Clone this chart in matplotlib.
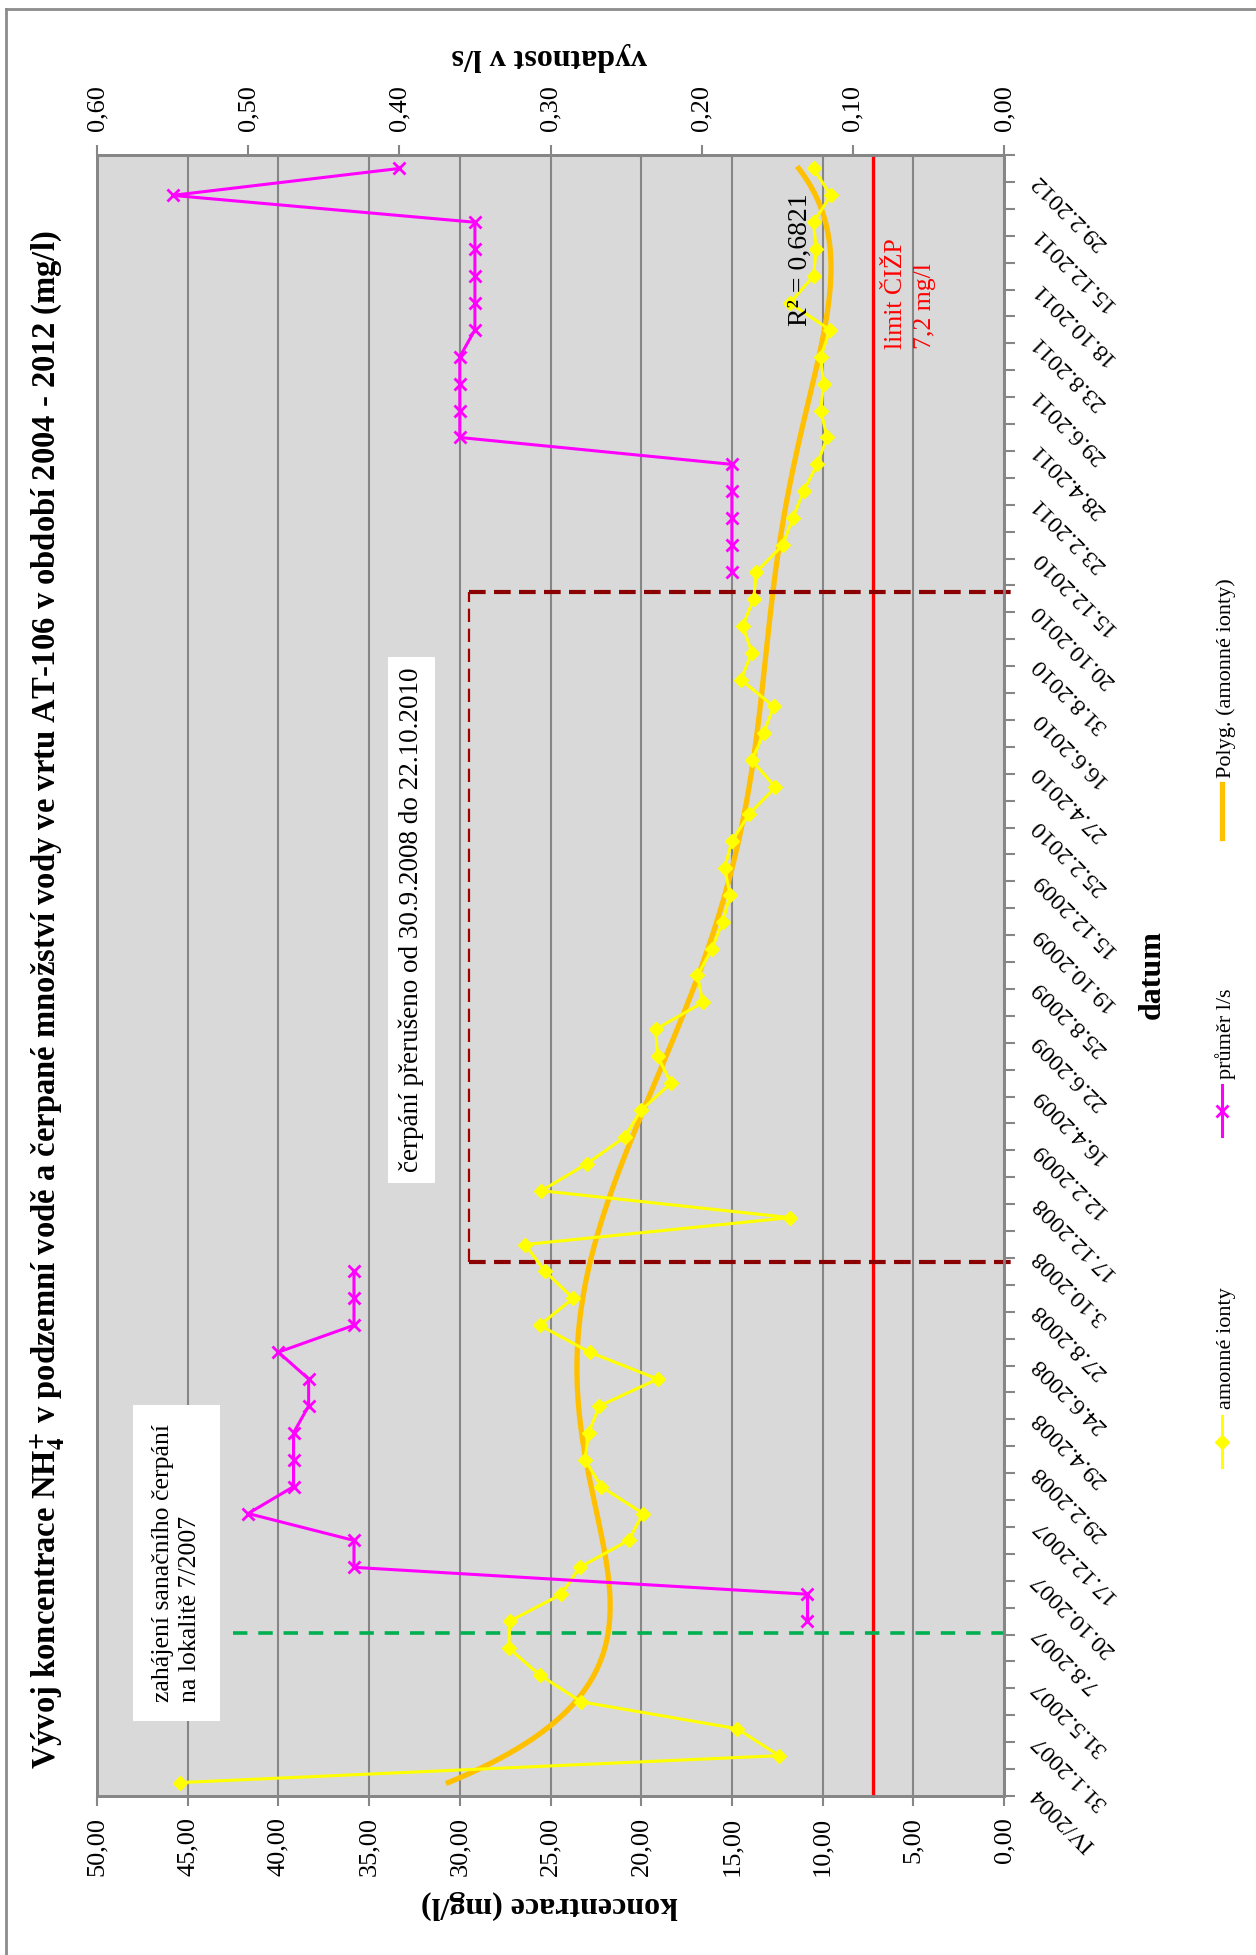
import numpy as np
import matplotlib
matplotlib.use('Agg')
import matplotlib.pyplot as plt
from matplotlib.lines import Line2D
from matplotlib.ticker import FuncFormatter
from matplotlib.transforms import blended_transform_factory, offset_copy

plt.rcParams['font.family'] = ['Liberation Serif', 'DejaVu Serif']
plt.rcParams['mathtext.fontset'] = 'stix'

# NH4+ concentration (mg/l), one value per sampling date
amonne = [45.4, 12.4, 14.7, 23.3, 25.6, 27.3, 27.25, 24.4, 23.4, 20.7,
          19.9, 22.2, 23.1, 22.9, 22.3, 19.1, 22.85, 25.6, 23.75, 25.3,
          26.4, 11.8, 25.5, 23.0, 20.9, 20.0, 18.35, 19.1, 19.2, 16.6,
          16.9, 16.1, 15.5, 15.1, 15.4, 15.0, 14.05, 12.6, 13.9, 13.25,
          12.7, 14.5, 13.9, 14.4, 13.8, 13.65, 12.2, 11.65, 11.05, 10.3,
          9.75, 10.1, 9.95, 10.1, 9.6, 11.8, 10.5, 10.35, 10.5, 9.55,
          10.5]

# average pumped yield (l/s), nan where pumping was off
nan = np.nan
prumer = [nan, nan, nan, nan, nan, nan, 0.13, 0.13, 0.43, 0.43,
          0.50, 0.47, 0.47, 0.47, 0.46, 0.46, 0.48, 0.43, 0.43, 0.43,
          nan, nan, nan, nan, nan, nan, nan, nan, nan, nan,
          nan, nan, nan, nan, nan, nan, nan, nan, nan, nan,
          nan, nan, nan, nan, nan, 0.18, 0.18, 0.18, 0.18, 0.18,
          0.36, 0.36, 0.36, 0.36, 0.35, 0.35, 0.35, 0.35, 0.35, 0.55,
          0.40]

# dates shown on the category axis (every second sample)
datum_labels = ['IV/2004', '31.1.2007', '31.5.2007', '7.8.2007', '20.10.2007',
                '17.12.2007', '29.2.2008', '29.4.2008', '24.6.2008', '27.8.2008',
                '3.10.2008', '17.12.2008', '12.2.2009', '16.4.2009', '22.6.2009',
                '25.8.2009', '19.10.2009', '15.12.2009', '25.2.2010', '27.4.2010',
                '16.6.2010', '31.8.2010', '20.10.2010', '15.12.2010', '23.2.2011',
                '28.4.2011', '29.6.2011', '23.8.2011', '18.10.2011', '15.12.2011',
                '29.2.2012']

limit_cizp = 7.2
start_cerpani = 5.55          # 7/2007, between samples
preruseni = (19.35, 44.25)    # 30.9.2008 - 22.10.2010
preruseni_conc = 29.5

n = len(amonne)
idx = np.arange(n)

W, H = 1256, 1955
fig = plt.figure(figsize=(W / 100, H / 100), dpi=100)
L, R, T, B = 97, 1004, 155, 1796
ax = fig.add_axes([L / W, 1 - B / H, (R - L) / W, (B - T) / H])

gray = '#868686'
fs_tick = 19
fs_title = 23
fs_note = 18.5

def comma(fmt):
    return FuncFormatter(lambda v, p: format(v, fmt).replace('.', ','))

ax.set_facecolor('#d9d9d9')
ax.set_xlim(50, 0)
ax.set_ylim(-0.5, n - 0.5)
ax.set_xticks(np.arange(0, 51, 5))
ax.xaxis.set_major_formatter(comma('.2f'))
ax.tick_params(axis='x', direction='out', length=7, width=1.5, color=gray,
               labelsize=fs_tick, labelrotation=90, pad=8)
ax.grid(axis='x', color=gray, lw=1.5)
ax.set_axisbelow(True)

ax.yaxis.tick_right()
ax.set_yticks(np.arange(n + 1) - 0.5)
ax.set_yticklabels([])
ax.tick_params(axis='y', direction='out', length=8, width=1.5, color=gray)
for s in ax.spines.values():
    s.set_color(gray)
    s.set_linewidth(2)

lab_tr = offset_copy(blended_transform_factory(ax.transAxes, ax.transData),
                     fig=fig, x=3, y=-8, units='dots')
for i, lab in zip(idx[::2], datum_labels):
    ax.text(1.03, i, lab, transform=lab_tr, rotation=135, rotation_mode='anchor',
            ha='right', va='center', fontsize=17.5)

# measured concentration + 6th order polynomial trend
ax.plot(amonne, idx, color='#ffff00', lw=2.2, marker='D', ms=7, zorder=4)
x = idx + 1
coef = np.polyfit(x, amonne, 6)
xs = np.linspace(1, n, 400)
ax.plot(np.polyval(coef, xs), xs - 1, color='#ffc000', lw=3.8, zorder=3)

ax.axvline(limit_cizp, color='#ff0000', lw=2.4, zorder=3)
ax.plot([42.5, 0], [start_cerpani] * 2, color='#00b050', lw=2.6, ls=(0, (4, 3)), zorder=3)
ax.plot([preruseni_conc, -0.4], [preruseni[0]] * 2, color='#8b0000', lw=3, ls=(0, (4, 2)),
        zorder=3, clip_on=False)
ax.plot([preruseni_conc, -0.4], [preruseni[1]] * 2, color='#8b0000', lw=3, ls=(0, (4, 2)),
        zorder=3, clip_on=False)
ax.plot([preruseni_conc] * 2, preruseni, color='#a00000', lw=1.6, ls=(0, (6, 3)), zorder=3)

# pumped yield on the secondary axis
ax2 = ax.twiny()
ax2.set_xlim(0.6, 0)
ax2.set_xticks(np.arange(0, 0.61, 0.1))
ax2.xaxis.set_major_formatter(comma('.2f'))
ax2.tick_params(axis='x', direction='out', length=7, width=1.5, color=gray,
                labelsize=fs_tick, labelrotation=90, pad=10)
for s in ax2.spines.values():
    s.set_color(gray)
    s.set_linewidth(2)
ax2.plot(prumer, idx, color='#ff00ff', lw=2.2, marker='x', ms=9, mew=2, zorder=5)

ax2.text(0.0877, 0.142, 'zahájení sanačního čerpání\nna lokalitě 7/2007', transform=ax.transAxes,
         rotation=90, ha='center', va='center', multialignment='left', fontsize=fs_note,
         linespacing=1.3, bbox=dict(boxstyle='square,pad=0.75', fc='white', ec='none'), zorder=6)
ax2.text(0.347, 0.534, 'čerpání přerušeno od 30.9.2008 do 22.10.2010', transform=ax.transAxes,
         rotation=90, ha='center', va='center', fontsize=19.5,
         bbox=dict(boxstyle='square,pad=0.4', fc='white', ec='none'), zorder=6)
ax2.text(0.775, 0.936, 'R² = 0,6821', transform=ax.transAxes, rotation=90,
         ha='center', va='center', fontsize=20, zorder=6)
ax2.text(0.897, 0.882, 'limit ČIŽP\n7,2 mg/l', transform=ax.transAxes, rotation=90,
         ha='center', va='bottom', multialignment='left', fontsize=fs_note, color='#ff0000',
         linespacing=1.4, zorder=6)

# titles
title = ('Vývoj koncentrace NH$_\\mathbf{4}^\\mathbf{+}$ v podzemní vodě a čerpané množství '
         'vody ve vrtu AT-106 v období 2004 - 2012 (mg/l)')
fig.text(48 / W, 1 - 1000 / H, title, rotation=90, ha='center', va='center',
         fontsize=23.5, weight='bold')
fig.text(549 / W, 1 - 57 / H, 'vydatnost v l/s', rotation=180, ha='center', va='center',
         fontsize=fs_title, weight='bold')
fig.text(549 / W, 1 - 1905 / H, 'koncentrace (mg/l)', rotation=180, ha='center', va='center',
         fontsize=fs_title, weight='bold')
fig.text(1152 / W, 1 - 975 / H, 'datum', rotation=90, ha='center', va='center',
         fontsize=fs_title, weight='bold')

# legend, drawn upright along the right edge
def px(xp, yp):
    return xp / W, 1 - yp / H

leg_x = 1222
legend_items = [
    ('amonné ionty', dict(color='#ffff00', lw=2.2, marker='D', ms=7), (1416, 1467), 1409),
    ('průměr l/s', dict(color='#ff00ff', lw=2.2, marker='x', ms=9, mew=2), (1085, 1136), 1079),
    ('Polyg. (amonné ionty)', dict(color='#ffc000', lw=3.8), (784, 838), 778),
]
for text, style, (y0, y1), ytxt in legend_items:
    xa, ya = px(leg_x, y0)
    _, yb = px(leg_x, y1)
    fig.add_artist(Line2D([xa, xa], [ya, yb], transform=fig.transFigure,
                          color=style['color'], lw=style['lw']))
    if 'marker' in style:
        _, ym = px(leg_x, (y0 + y1) / 2)
        fig.add_artist(Line2D([xa], [ym], transform=fig.transFigure, ls='none',
                              marker=style['marker'], ms=style['ms'], mew=style.get('mew', 1),
                              color=style['color']))
    fig.text(*px(leg_x + 4, ytxt), text, rotation=90, ha='center', va='bottom', fontsize=16)

# outer frame
fig.add_artist(Line2D([6 / W, 6 / W], [0, 1 - 9 / H], transform=fig.transFigure, color='#8c8c8c', lw=2))
fig.add_artist(Line2D([6 / W, 1], [1 - 9 / H, 1 - 9 / H], transform=fig.transFigure, color='#8c8c8c', lw=2))

fig.savefig('out.png', dpi=100, facecolor='white')
